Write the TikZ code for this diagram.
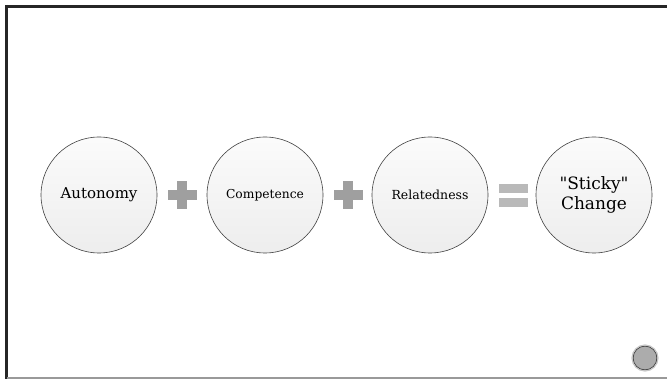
\documentclass[tikz,border=0pt]{standalone}
\usepackage{fontspec}
% plain family: no TeX ligature mapping, so " stays a straight quote
\newfontfamily\slab{DejaVu Serif}
\begin{document}
\begin{tikzpicture}[x=1pt,y=-1pt,
  bubble/.style={circle, minimum size=116pt, inner sep=0pt, draw=black!75, line width=0.6pt,
    top color=gray!3, bottom color=gray!14, align=center, text=black},
  opbar/.style={fill=gray!75, draw=none},
  eqbar/.style={fill=gray!55, draw=none}]
\useasboundingbox (0,0) rectangle (667,379);
% slide frame
\draw[black!85, line width=2.5pt] (5,6.5) -- (667,6.5);
\draw[black!85, line width=2.5pt] (6.5,5) -- (6.5,379);
\draw[gray!80, line width=1.4pt] (7,378) -- (667,378);

% the four ingredients
\node[bubble, font=\slab\fontsize{15}{17}\selectfont] (aut) at (99,195) {Autonomy};
\node[bubble, font=\slab\fontsize{12.3}{14}\selectfont] (com) at (265,195) {Competence};
\node[bubble, font=\slab\fontsize{12.5}{14}\selectfont] (rel) at (430,195) {Relatedness};
\node[bubble, font=\slab\fontsize{17}{20}\selectfont] (sti) at (594,195) {"Sticky"\\Change};

% plus signs between bubbles
\foreach \c in {182,348}{
  \fill[opbar] (\c-14.5,190.5) rectangle (\c+14.5,200);
  \fill[opbar] (\c-5,181) rectangle (\c+5,209.5);
}
% equals sign
\fill[eqbar] (499,184) rectangle (528,193);
\fill[eqbar] (499,198) rectangle (528,207);

% corner button
\node[circle, minimum size=24pt, inner sep=0pt, fill=gray!65, draw=black!75, line width=0.9pt] (btn) at (645,358) {};
\draw[gray!45, line width=1.2pt] (btn.center) circle (13pt);
\end{tikzpicture}
\end{document}
